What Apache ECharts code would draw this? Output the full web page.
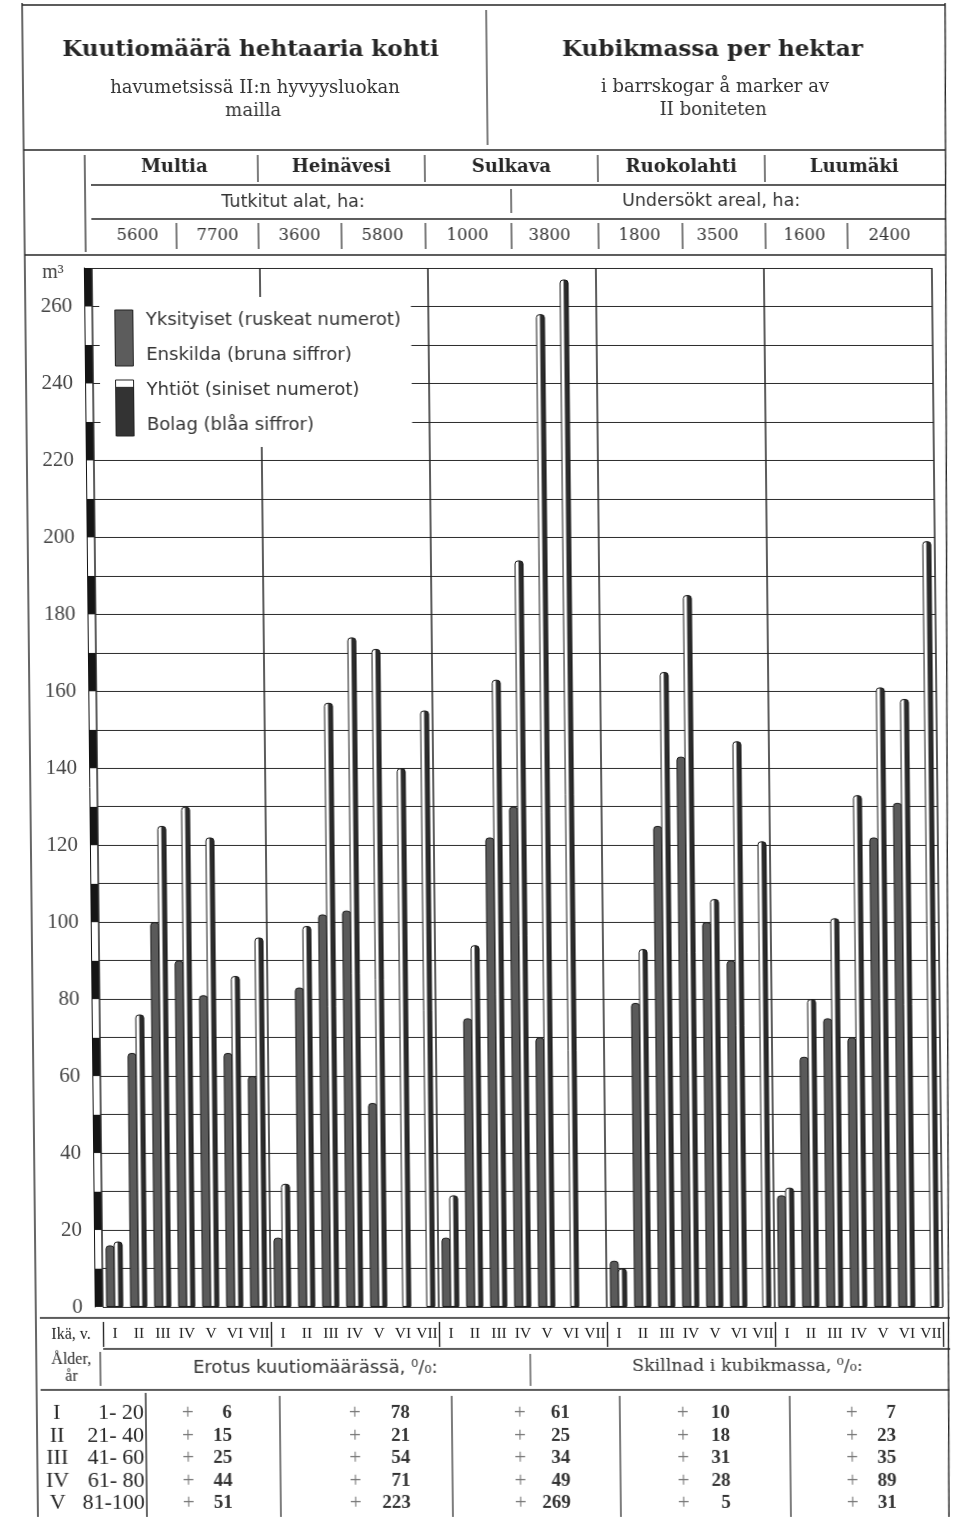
<!DOCTYPE html>
<html><head><meta charset="utf-8">
<script src="https://cdn.jsdelivr.net/npm/echarts/dist/echarts.min.js"></script>
<style>
html,body{margin:0;padding:0;background:#fff;overflow:hidden}
#c{width:966px;height:1517px;transform:skewX(0.6deg);transform-origin:483px 758px;background:#fff}
</style>
</head><body><div id="c"></div>
<script>
// ---- data ----
const regions = ['Multia', 'Heinävesi', 'Sulkava', 'Ruokolahti', 'Luumäki'];
const ageClasses = ['I', 'II', 'III', 'IV', 'V', 'VI', 'VII'];
const areaPrivate = [5600, 3600, 1000, 1800, 1600];
const areaCompany = [7700, 5800, 3800, 3500, 2400];
// Yksityiset / Enskilda (m3 per ha)
const privMultia = [16, 66, 100, 90, 81, 66, 60];
const privHeinavesi = [18, 83, 102, 103, 53, null, null];
const privSulkava = [18, 75, 122, 130, 70, null, null];
const privRuokolahti = [12, 79, 125, 143, 100, 90, null];
const privLuumaki = [29, 65, 75, 70, 122, 131, null];
// Yhtiöt / Bolag (m3 per ha)
const compMultia = [17, 76, 125, 130, 122, 86, 96];
const compHeinavesi = [32, 99, 157, 174, 171, 140, 155];
const compSulkava = [29, 94, 163, 194, 258, 267, null];
const compRuokolahti = [10, 93, 165, 185, 106, 147, 121];
const compLuumaki = [31, 80, 101, 133, 161, 158, 199];
// y-axis ticks
const yMin = 0, yMax = 270, yStep = 10, yLabelStep = 20;
// difference table (%)
const tableAgeRoman = ['I', 'II', 'III', 'IV', 'V'];
const tableAgeYears = ['1- 20', '21- 40', '41- 60', '61- 80', '81-100'];
const diffMultia = [6, 15, 25, 44, 51];
const diffHeinavesi = [78, 21, 54, 71, 223];
const diffSulkava = [61, 25, 34, 49, 269];
const diffRuokolahti = [10, 18, 31, 28, 5];
const diffLuumaki = [7, 23, 35, 89, 31];

const privAll = [privMultia, privHeinavesi, privSulkava, privRuokolahti, privLuumaki];
const compAll = [compMultia, compHeinavesi, compSulkava, compRuokolahti, compLuumaki];
const diffAll = [diffMultia, diffHeinavesi, diffSulkava, diffRuokolahti, diffLuumaki];

const cats = [];
regions.forEach(r => ageClasses.forEach(a => cats.push(r + '|' + a)));
const privData = [].concat(...privAll);
const compData = [].concat(...compAll);

// ---- layout helpers ----
const SERIF = "'DejaVu Serif', serif";
const LSERIF = "'Liberation Serif', serif";
const SANS = "'DejaVu Sans', sans-serif";
const INK = '#262626';
function L(x1, y1, x2, y2, w) {
  return {type: 'line', silent: true, z: 20, shape: {x1, y1, x2, y2},
          style: {stroke: INK, lineWidth: w || 1.3}};
}
function T(x, y, t, font, align, color) {
  return {type: 'text', silent: true, z: 20, x: x, y: y,
          style: {text: t, font: font, textAlign: align || 'center', align: align || 'center',
                  textVerticalAlign: 'middle', verticalAlign: 'middle', fill: color || INK}};
}

const G = [];
// outer frame
G.push(L(30, 5, 953, 5, 1.4));
G.push(L(30, 3, 30, 1517, 1.4));
G.push(L(953, 3, 941, 1517, 1.4));
// top titles
G.push(L(494, 10, 494, 145, 1.2));
G.push(T(258, 50, 'Kuutiomäärä hehtaaria kohti', 'bold 23px ' + SERIF));
G.push(T(262, 88, 'havumetsissä II:n hyvyysluokan', '18px ' + SERIF, 'center', '#333'));
G.push(T(260, 111, 'mailla', '18px ' + SERIF, 'center', '#333'));
G.push(T(720, 50, 'Kubikmassa per hektar', 'bold 23px ' + SERIF));
G.push(T(722, 87, 'i barrskogar å marker av', '18px ' + SERIF, 'center', '#333'));
G.push(T(720, 110, 'II boniteten', '18px ' + SERIF, 'center', '#333'));
G.push(L(30, 150, 952, 150, 1.4));
// region header
G.push(L(91, 155, 91, 252, 1.3));
const regSep = [264, 431, 604, 771];
const regLeft = [97, 264, 431, 604, 771], regRight = [264, 431, 604, 771, 950];
regSep.forEach(x => G.push(L(x, 155, x, 182, 1.2)));
regions.forEach((r, i) => G.push(T((regLeft[i] + regRight[i]) / 2, 167, r, 'bold 18px ' + SERIF)));
G.push(L(97, 185, 951, 185, 1.3));
G.push(T(299, 202, 'Tutkitut alat, ha:', '17.5px ' + SANS, 'center', '#333'));
G.push(T(717, 201, 'Undersökt areal, ha:', '17.5px ' + SANS, 'center', '#333'));
G.push(L(517, 189, 517, 213, 1.2));
G.push(L(97, 219, 951, 219, 1.3));
const areaSep = [182, 264, 347, 431, 517, 604, 688, 771, 853];
areaSep.forEach(x => G.push(L(x, 223, x, 249, 1.2)));
const areaX = [143, 223, 305, 388, 473, 555, 645, 723, 810, 895];
regions.forEach((r, i) => {
  G.push(T(areaX[2 * i], 236, String(areaPrivate[i]), '16.5px ' + SERIF, 'center', '#333'));
  G.push(T(areaX[2 * i + 1], 236, String(areaCompany[i]), '16.5px ' + SERIF, 'center', '#333'));
});
G.push(L(30, 255, 951, 255, 1.4));
G.push(T(58, 273, 'm³', '20px ' + LSERIF, 'center', '#444'));
// bottom section
G.push(L(34, 1318, 944, 1318, 1.6));
G.push(T(65, 1335, 'Ikä, v.', '16px ' + LSERIF));
G.push(L(97, 1349, 944, 1349, 1.3));
G.push(L(94, 1352, 94, 1386, 1.2));
G.push(T(65, 1360, 'Ålder,', '16px ' + LSERIF));
G.push(T(65, 1377, 'år', '16px ' + LSERIF));
G.push(T(309, 1368, 'Erotus kuutiomäärässä, ⁰/₀:', '18px ' + SANS, 'center', '#333'));
G.push(T(741, 1366, 'Skillnad i kubikmassa, ⁰/₀:', '17.5px ' + SERIF, 'center', '#333'));
G.push(L(524, 1354, 524, 1386, 1.1));
G.push(L(34, 1390, 943, 1390, 1.4));
G.push(L(139, 1393, 139, 1517, 1.4));
[273, 445, 613, 783].forEach(x => G.push(L(x, 1396, x, 1517, 1.2)));
const rowY = [1413, 1436, 1458, 1481, 1503];
const plusX = [181, 348, 513, 676, 845];
const numRight = [225, 403, 563, 723, 889];
tableAgeRoman.forEach((a, k) => {
  G.push(T(50, rowY[k], a, '22px ' + LSERIF));
  G.push(T(137, rowY[k], tableAgeYears[k], '22px ' + LSERIF, 'right'));
  diffAll.forEach((d, i) => {
    G.push(T(plusX[i], rowY[k], '+', '21px ' + LSERIF, 'center', '#777'));
    G.push(T(numRight[i], rowY[k], String(d[k]), 'bold 19px ' + LSERIF, 'right', '#333'));
  });
});

const legendText = {
  'Yksityiset': 'Yksityiset (ruskeat numerot)\nEnskilda (bruna siffror)',
  'Yhtiöt': 'Yhtiöt (siniset numerot)\nBolag (blåa siffror)'
};
const compFill = new echarts.graphic.LinearGradient(0, 0, 1, 0, [
  {offset: 0, color: '#ffffff'}, {offset: 0.4, color: '#ffffff'},
  {offset: 0.48, color: '#2e2e2e'}, {offset: 1, color: '#262626'}]);
const compLegendFill = new echarts.graphic.LinearGradient(0, 0, 0, 1, [
  {offset: 0, color: '#ffffff'}, {offset: 0.12, color: '#ffffff'},
  {offset: 0.14, color: '#333333'}, {offset: 1, color: '#333333'}]);

const chart = echarts.init(document.getElementById('c'), null, {renderer: 'canvas'});
chart.setOption({
  animation: false,
  backgroundColor: '#fff',
  grid: [
    {left: 97, right: 29, top: 268, bottom: 210},
    {left: 89, width: 8, top: 268, bottom: 210}
  ],
  legend: {
    left: 104, top: 297, orient: 'vertical', selectedMode: false,
    backgroundColor: '#fff', padding: [6, 10, 4, 15], itemGap: 0,
    itemWidth: 18, itemHeight: 56, icon: 'rect',
    formatter: n => legendText[n],
    textStyle: {fontFamily: SANS, fontSize: 18, lineHeight: 35, color: '#333', padding: [0, 0, 0, 8]},
    data: [
      {name: 'Yksityiset', itemStyle: {color: '#5c5c5c', borderColor: '#222', borderWidth: 1}},
      {name: 'Yhtiöt', itemStyle: {color: compLegendFill, borderColor: '#222', borderWidth: 1}}
    ]
  },
  xAxis: [
    {type: 'category', gridIndex: 0, data: cats, position: 'bottom',
     axisLine: {show: false}, axisTick: {show: false}, splitLine: {show: false},
     axisLabel: {interval: 0, margin: 19, formatter: v => v.split('|')[1],
                 fontFamily: LSERIF, fontSize: 15.5, color: '#222'}},
    {type: 'category', gridIndex: 0, data: regions, position: 'bottom', offset: 15,
     axisLine: {show: false}, axisLabel: {show: false},
     axisTick: {show: true, length: 25, lineStyle: {color: INK, width: 1.4}},
     splitLine: {show: true, lineStyle: {color: INK, width: 1.5}}},
    {type: 'value', gridIndex: 1, show: false}
  ],
  yAxis: [
    {type: 'value', gridIndex: 0, min: yMin, max: yMax, interval: yStep,
     axisLine: {show: false}, axisTick: {show: false},
     splitLine: {show: true, lineStyle: {color: '#2b2b2b', width: 1.2}},
     axisLabel: {margin: 20, fontFamily: LSERIF, fontSize: 21, color: '#444',
                 formatter: v => (v % yLabelStep === 0 && v <= 260) ? String(v) : ''}},
    {type: 'value', gridIndex: 1, min: yMin, max: yMax, interval: yStep,
     axisLine: {show: true, lineStyle: {color: '#111', width: 1}}, axisTick: {show: false},
     axisLabel: {show: false}, splitLine: {show: false},
     splitArea: {show: true, areaStyle: {color: ['#151515', '#ffffff']}}}
  ],
  series: [
    {name: 'Yksityiset', type: 'bar', xAxisIndex: 0, yAxisIndex: 0, data: privData,
     barWidth: 9, barGap: '-10%', z: 3,
     itemStyle: {color: '#5a5a5a', borderColor: '#1e1e1e', borderWidth: 1, borderRadius: [3, 3, 0, 0]}},
    {name: 'Yhtiöt', type: 'bar', xAxisIndex: 0, yAxisIndex: 0, data: compData,
     barWidth: 9, z: 4,
     itemStyle: {color: compFill, borderColor: '#1a1a1a', borderWidth: 1, borderRadius: [3, 3, 0, 0]}}
  ],
  graphic: {elements: G}
});
</script>
</body></html>
